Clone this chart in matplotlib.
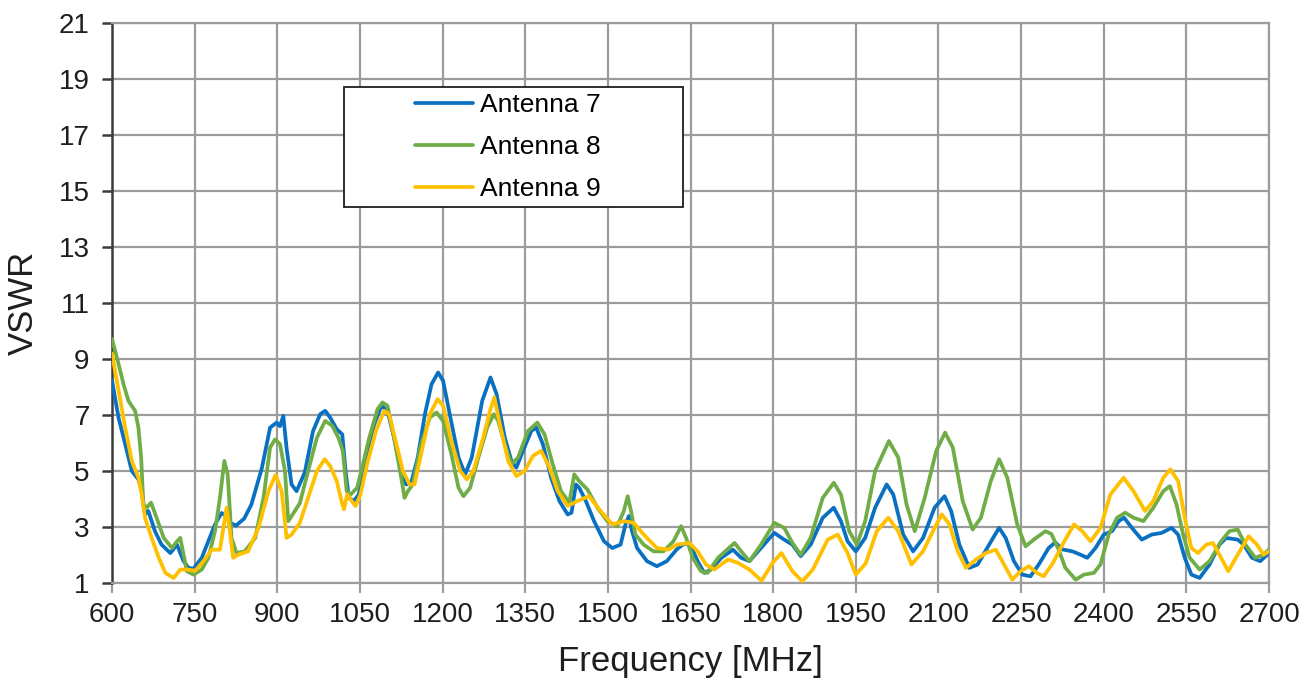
import matplotlib
matplotlib.use('Agg')
import matplotlib.pyplot as plt
from matplotlib.patches import Rectangle

plt.rcParams['font.family'] = ['Liberation Sans', 'DejaVu Sans']

# ========== measured VSWR curves ==========
freq_ant7 = [600, 612, 624, 636, 648, 654, 660, 666, 678, 690, 706, 718, 730, 739, 748,
             763, 775, 787, 799, 807, 815, 825, 840, 853, 872, 887, 899, 905, 911, 917,
             926, 935, 950, 965, 978, 987, 996, 1008, 1018, 1024, 1030, 1039, 1048, 1060,
             1076, 1089, 1100, 1112, 1125, 1134, 1143, 1155, 1168, 1180, 1192, 1201, 1213,
             1229, 1241, 1253, 1272, 1287, 1298, 1313, 1325, 1334, 1346, 1361, 1370, 1382,
             1397, 1412, 1427, 1434, 1442, 1448, 1460, 1475, 1493, 1508, 1523, 1532, 1538,
             1544, 1553, 1571, 1589, 1607, 1625, 1636, 1648, 1663, 1675, 1687, 1706, 1727,
             1742, 1757, 1778, 1802, 1820, 1835, 1850, 1868, 1890, 1910, 1923, 1935, 1950,
             1967, 1985, 2006, 2018, 2036, 2054, 2072, 2093, 2111, 2123, 2138, 2156, 2171,
             2192, 2210, 2222, 2237, 2252, 2267, 2282, 2300, 2312, 2325, 2343, 2358, 2370,
             2385, 2400, 2415, 2427, 2437, 2451, 2469, 2487, 2505, 2523, 2535, 2547, 2559,
             2574, 2592, 2610, 2622, 2643, 2654, 2669, 2684, 2700]
vswr_ant7 = [8.25, 6.9, 5.96, 5.0, 4.7, 4.28, 3.45, 3.57, 2.85, 2.37, 2.07, 2.37, 1.78, 1.54, 1.51,
             1.9, 2.49, 3.09, 3.5, 3.4, 3.15, 3.05, 3.3, 3.8, 5.1, 6.55, 6.73, 6.6, 6.97, 5.8,
             4.52, 4.28, 4.95, 6.43, 7.03, 7.15, 6.91, 6.49, 6.31, 5.0, 4.04, 3.93, 4.16, 5.36,
             6.67, 7.33, 7.15, 6.19, 5.0, 4.52, 4.58, 5.48, 7.03, 8.1, 8.52, 8.22, 7.03,
             5.48, 4.88, 5.48, 7.51, 8.34, 7.75, 6.19, 5.36, 5.12, 5.72, 6.43, 6.55, 5.96,
             4.76, 3.93, 3.45, 3.51, 4.52, 4.4, 3.93, 3.21, 2.49, 2.25, 2.37, 3.09, 3.39,
             2.85, 2.25, 1.78, 1.6, 1.78, 2.2, 2.37, 2.43, 1.78, 1.36, 1.48, 1.9, 2.19,
             1.9, 1.78, 2.25, 2.79, 2.55, 2.37, 1.96, 2.37, 3.33, 3.69, 3.21, 2.49, 2.13,
             2.61, 3.69, 4.52, 4.16, 2.73, 2.13, 2.61, 3.69, 4.1, 3.57, 2.37, 1.54, 1.66,
             2.37, 2.97, 2.61, 1.78, 1.3, 1.24, 1.66, 2.25, 2.45, 2.2, 2.13, 2.01, 1.9,
             2.25, 2.73, 2.85, 3.21, 3.33, 2.97, 2.55, 2.73, 2.79, 2.97, 2.73, 1.9, 1.3,
             1.18, 1.66, 2.37, 2.61, 2.55, 2.37, 1.9, 1.78, 2.07]

freq_ant8 = [600, 612, 621, 630, 642, 648, 653, 657, 663, 671, 681, 694, 709, 718, 724,
             730, 736, 748, 763, 775, 787, 796, 804, 810, 817, 826, 841, 860, 875, 887,
             896, 905, 914, 920, 926, 941, 956, 972, 987, 1000, 1011, 1019, 1026, 1033,
             1045, 1054, 1067, 1082, 1091, 1100, 1112, 1125, 1131, 1137, 1146, 1161, 1177,
             1189, 1201, 1216, 1229, 1238, 1250, 1265, 1281, 1293, 1301, 1313, 1325, 1337,
             1355, 1372, 1385, 1400, 1415, 1430, 1439, 1448, 1463, 1481, 1499, 1517, 1529,
             1536, 1542, 1550, 1565, 1583, 1601, 1619, 1633, 1642, 1654, 1669, 1681, 1700,
             1730, 1742, 1757, 1778, 1802, 1820, 1835, 1850, 1868, 1890, 1910, 1923, 1938,
             1952, 1967, 1985, 2010, 2027, 2042, 2057, 2075, 2096, 2112, 2126, 2144, 2162,
             2177, 2195, 2210, 2225, 2243, 2258, 2273, 2294, 2305, 2318, 2330, 2349, 2364,
             2382, 2394, 2409, 2424, 2439, 2454, 2472, 2490, 2508, 2520, 2532, 2544, 2556,
             2574, 2592, 2613, 2628, 2643, 2657, 2675, 2690, 2700]
vswr_ant8 = [9.72, 8.82, 8.1, 7.5, 7.15, 6.55, 5.48, 3.8, 3.69, 3.87, 3.33, 2.61, 2.25, 2.49, 2.61,
             2.01, 1.42, 1.3, 1.48, 1.9, 2.85, 4.04, 5.36, 4.88, 2.61, 2.07, 2.13, 2.61, 4.04, 5.84,
             6.13, 5.96, 5.0, 3.21, 3.39, 3.85, 5.0, 6.19, 6.79, 6.61, 6.19, 5.72, 4.28, 4.16,
             4.4, 5.12, 6.19, 7.21, 7.45, 7.33, 6.19, 4.76, 4.04, 4.28, 4.52, 5.96, 6.91,
             7.09, 6.79, 5.6, 4.4, 4.1, 4.4, 5.48, 6.55, 7.03, 6.79, 5.96, 5.24, 5.48,
             6.43, 6.73, 6.31, 5.24, 4.28, 3.87, 4.88, 4.64, 4.34, 3.69, 3.21, 3.03, 3.57,
             4.1, 3.57, 2.73, 2.37, 2.13, 2.13, 2.49, 3.03, 2.61, 1.9, 1.42, 1.36, 1.9,
             2.43, 2.13, 1.78, 2.37, 3.15, 2.97, 2.43, 2.01, 2.61, 4.04, 4.58, 4.16, 2.85,
             2.37, 3.21, 5.0, 6.07, 5.48, 3.81, 2.85, 4.04, 5.72, 6.37, 5.84, 3.93, 2.91,
             3.33, 4.64, 5.42, 4.76, 3.09, 2.31, 2.55, 2.85, 2.75, 2.2, 1.55, 1.12, 1.3,
             1.36, 1.66, 2.73, 3.33, 3.51, 3.33, 3.21, 3.69, 4.28, 4.46, 3.81, 2.73, 1.9,
             1.48, 1.78, 2.49, 2.85, 2.91, 2.37, 1.9, 2.01, 2.2]

freq_ant9 = [600, 612, 624, 636, 648, 654, 660, 672, 685, 697, 712, 724, 736, 751, 766,
             781, 796, 808, 814, 820, 829, 847, 866, 884, 897, 908, 917, 926, 941, 956,
             972, 986, 996, 1008, 1018, 1021, 1027, 1033, 1042, 1051, 1063, 1079, 1094,
             1103, 1115, 1128, 1140, 1149, 1161, 1177, 1191, 1201, 1216, 1232, 1244, 1256,
             1272, 1287, 1294, 1304, 1319, 1334, 1349, 1364, 1379, 1394, 1409, 1427, 1445,
             1466, 1487, 1508, 1529, 1547, 1565, 1589, 1610, 1625, 1637, 1648, 1663, 1678,
             1693, 1718, 1736, 1757, 1779, 1799, 1815, 1835, 1853, 1872, 1899, 1917, 1935,
             1950, 1968, 1988, 2009, 2027, 2051, 2072, 2090, 2106, 2120, 2135, 2150, 2168,
             2186, 2204, 2219, 2234, 2249, 2264, 2279, 2291, 2308, 2325, 2346, 2361, 2376,
             2394, 2412, 2436, 2454, 2475, 2490, 2508, 2521, 2535, 2547, 2559, 2571, 2586,
             2598, 2613, 2626, 2643, 2663, 2678, 2690, 2700]
vswr_ant9 = [9.2, 7.87, 6.55, 5.36, 4.76, 4.16, 3.33, 2.61, 1.9, 1.36, 1.18, 1.48, 1.48, 1.44, 1.78,
             2.19, 2.19, 3.69, 2.85, 1.9, 2.01, 2.13, 2.97, 4.28, 4.86, 4.28, 2.61, 2.73, 3.15, 4.04,
             5.0, 5.42, 5.18, 4.64, 3.81, 3.63, 4.16, 3.99, 3.75, 4.16, 5.24, 6.43, 7.15,
             7.03, 6.07, 5.0, 4.52, 4.52, 5.6, 7.03, 7.57, 7.33, 6.07, 5.0, 4.7, 5.0,
             6.07, 7.21, 7.63, 6.67, 5.36, 4.82, 5.0, 5.54, 5.72, 5.12, 4.28, 3.75, 3.93,
             4.1, 3.57, 3.09, 3.21, 3.15, 2.73, 2.25, 2.19, 2.37, 2.4, 2.43, 2.13, 1.66,
             1.48, 1.84, 1.72, 1.48, 1.08, 1.72, 2.07, 1.42, 1.06, 1.48, 2.55, 2.73, 2.07,
             1.3, 1.7, 2.85, 3.33, 2.85, 1.66, 2.13, 2.85, 3.45, 3.09, 2.13, 1.54, 1.84,
             2.07, 2.19, 1.66, 1.12, 1.42, 1.6, 1.36, 1.24, 1.72, 2.37, 3.09, 2.85, 2.49,
             2.97, 4.16, 4.76, 4.28, 3.57, 3.93, 4.76, 5.06, 4.64, 3.33, 2.25, 2.07, 2.37,
             2.43, 1.9, 1.42, 2.01, 2.67, 2.37, 2.01, 2.13]

series_labels = ['Antenna 7', 'Antenna 8', 'Antenna 9']
series_colors = ['#0a70c2', '#70ad47', '#ffc000']

x_ticks = list(range(600, 2701, 150))
y_ticks = list(range(1, 22, 2))

# ========== figure ==========
fig = plt.figure(figsize=(13.14, 6.81), dpi=100)
ax = fig.add_axes([0.0852, 0.1439, 0.8806, 0.8223])

grid_col = '#9c9c9c'
text_col = '#1e1e1e'

for f, v, lab, col in zip([freq_ant7, freq_ant8, freq_ant9],
                          [vswr_ant7, vswr_ant8, vswr_ant9],
                          series_labels, series_colors):
    ax.plot(f, v, color=col, linewidth=2.7, label=lab, solid_joinstyle='round',
            solid_capstyle='round', zorder=3)

ax.set_xlim(600, 2700)
ax.set_ylim(1, 21)
ax.set_xticks(x_ticks)
ax.set_yticks(y_ticks)
ax.grid(True, color=grid_col, linewidth=1.6, zorder=0)
ax.set_axisbelow(True)

# frame: dark value axis on the left, grey elsewhere
ax.spines['left'].set_color('#3c3c3c')
ax.spines['left'].set_linewidth(1.8)
for side in ['bottom', 'top', 'right']:
    ax.spines[side].set_color(grid_col)
    ax.spines[side].set_linewidth(1.6)

ax.tick_params(axis='y', direction='out', length=7, width=1.8, color='#3c3c3c',
               pad=9, labelsize=20, labelcolor=text_col)
ax.tick_params(axis='x', direction='out', length=7, width=1.6, color=grid_col,
               pad=7, labelsize=20, labelcolor=text_col)

ax.set_xlabel('Frequency [MHz]', fontsize=25, color=text_col)
ax.set_ylabel('VSWR', fontsize=25, color=text_col)
ax.xaxis.set_label_coords(0.5, -0.11)
ax.yaxis.set_label_coords(-0.062, 0.5)

# legend box drawn separately so it can be wider than its entries
ax.add_patch(Rectangle((0.2005, 0.6714), 0.293, 0.2143, transform=ax.transAxes,
                       facecolor='white', edgecolor='#1e1e1e', linewidth=1.3, zorder=4))
ax.legend(loc='upper left', bbox_to_anchor=(0.2619, 0.8745), frameon=False,
          fontsize=19, handlelength=2.2, handletextpad=0.25, labelspacing=0.68,
          borderpad=0, borderaxespad=0).set_zorder(5)

fig.savefig('out.png', dpi=100, facecolor='white')
